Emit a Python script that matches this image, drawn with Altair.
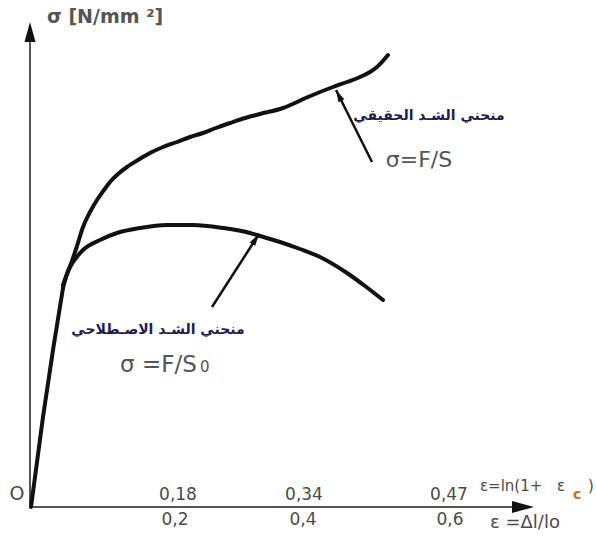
import altair as alt
import pandas as pd

# Schematic stress-strain diagram (arbitrary plot units: strain -> x, stress -> y)
elastic_x = [1, 13, 23, 33]
elastic_y = [0, 90, 157, 219]

true_x = [33, 37, 42, 47, 53, 60, 67, 74, 80, 88, 97, 108, 120, 133, 147, 160, 173, 186, 200, 215, 230, 253, 278, 303, 317, 330, 340, 347, 358]
true_y = [219, 233, 246, 261, 280, 295, 307, 317, 325, 333, 340, 347, 354, 360, 365, 370, 374, 379, 384, 389, 393, 399, 410, 420, 425, 430, 435, 440, 452]

eng_x = [33, 40, 46, 53, 70, 87, 110, 137, 163, 193, 220, 230, 250, 270, 290, 317, 335, 353]
eng_y = [222, 240, 249, 257, 267, 274, 279, 282, 282, 279, 274, 271, 265, 258, 250, 234, 221, 207]

# annotation arrows (tail -> tip)
arrow_x = [342, 182]
arrow_y = [345, 200]
arrow_x2 = [306, 229]
arrow_y2 = [417, 273]

# axes
axis_x = [0, 0]
axis_y = [0, 0]
axis_x2 = [0, 484]
axis_y2 = [468, 0]

head_x = [0, 504, 306, 229]
head_y = [485, 0, 417, 273]
head_angle = [0, 90, 333, 33]
head_size = [400, 484, 144, 144]

top_ticks = ["0,18", "0,34", "0,47"]
top_ticks_x = [148, 274, 419]
bottom_ticks = ["0,2", "0,4", "0,6"]
bottom_ticks_x = [145, 273, 420]

FONT = "DejaVu Sans"

X = alt.X("x:Q", scale=alt.Scale(domain=[-30, 566], nice=False, zero=False), axis=None)
Y = alt.Y("y:Q", scale=alt.Scale(domain=[-30, 507], nice=False, zero=False), axis=None)


def curve(xs, ys, width=4):
    df = pd.DataFrame({"x": xs, "y": ys, "o": list(range(len(xs)))})
    return alt.Chart(df).mark_line(
        color="#111111", strokeWidth=width, interpolate="monotone", strokeCap="round", strokeJoin="round"
    ).encode(x=X, y=Y, order="o:Q")


def rules(x1, y1, x2, y2, color, width):
    df = pd.DataFrame({"x": x1, "y": y1, "x2": x2, "y2": y2})
    return alt.Chart(df).mark_rule(color=color, strokeWidth=width).encode(
        x=X, y=Y, x2="x2:Q", y2="y2:Q"
    )


def texts(items, size, color="#4a4a4a", weight="normal", align="center", font=FONT):
    df = pd.DataFrame(items, columns=["x", "y", "t"])
    return alt.Chart(df).mark_text(
        fontSize=size, color=color, fontWeight=weight, align=align, baseline="middle", font=font
    ).encode(x=X, y=Y, text="t:N")


axes = rules(axis_x, axis_y, axis_x2, axis_y2, "#555555", 2)
arrows = rules(arrow_x, arrow_y, arrow_x2, arrow_y2, "#111111", 2.5)

heads = alt.Chart(pd.DataFrame({"x": head_x, "y": head_y, "a": head_angle, "s": head_size})).mark_point(
    shape="M0,0L-0.55,2L0.55,2Z", filled=True, color="#111111", opacity=1
).encode(x=X, y=Y, angle=alt.Angle("a:Q", scale=None), size=alt.Size("s:Q", scale=None))

layers = [
    axes,
    curve(elastic_x, elastic_y),
    curve(true_x, true_y),
    curve(eng_x, eng_y),
    arrows,
    heads,
    texts([(17, 490, "σ [N/mm ²]")], 19, color="#555555", weight="bold", align="left"),
    texts([(399, 391, "منحني الشـد الحقيقي")], 14, color="#1c1c50", weight="bold"),
    texts([(128, 177, "منحني الشـد الاصـطلاحي")], 14, color="#1c1c50", weight="bold"),
    texts([(389, 347, "σ=F/S")], 22, color="#555555"),
    texts([(90, 142, "σ =F/S")], 23, color="#555555", align="left"),
    texts([(170, 140, "0")], 15, color="#555555", align="left"),
    texts([(-13, 13, "O")], 19),
    texts([(x, 12, t) for x, t in zip(top_ticks_x, top_ticks)], 17),
    texts([(x, -13, t) for x, t in zip(bottom_ticks_x, bottom_ticks)], 17),
    texts([(450, 21, "ε=ln(1+")], 15, align="left"),
    texts([(527, 21, "ε")], 15, align="left"),
    texts([(543, 12, "c")], 14, color="#d07010", weight="bold", align="left"),
    texts([(558, 21, ")")], 15, align="left"),
    texts([(460, -16, "ε =Δl/lo")], 18, align="left"),
]

chart = alt.layer(*layers).properties(
    width=596, height=537, autosize=alt.AutoSizeParams(type="none"), padding=0, background="white"
).configure_view(stroke=None)

chart.save("out.html", embed_options={"renderer": "svg", "actions": False})
